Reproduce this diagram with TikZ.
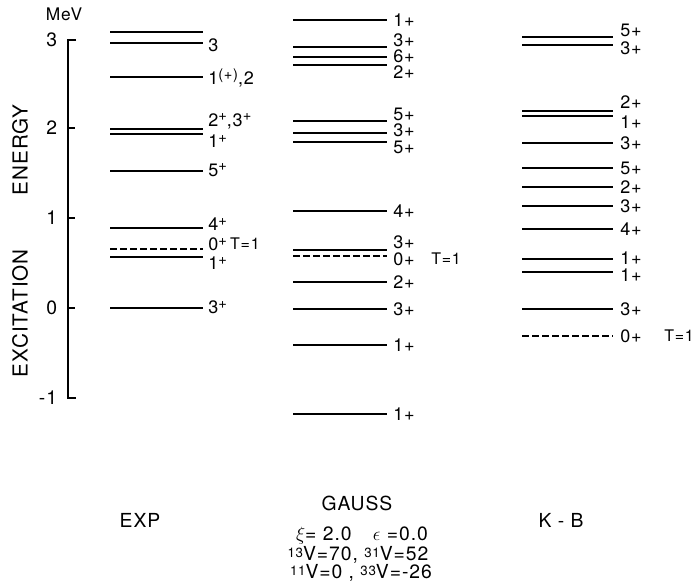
\documentclass[tikz,border=0pt]{standalone}
\usepackage{fontspec}
\setmainfont{TeX Gyre Heros}[LetterSpace=5]
\usepackage{tikz}

% raised sign after a spin value
\newcommand\upp[1]{\raisebox{0.55ex}{\fontsize{11}{12}\selectfont #1}}
% mass-number prefix in the parameter lines
\newcommand\pre[1]{\raisebox{0.35ex}{\fontsize{10}{11}\selectfont #1}}

\tikzset{
  lvl/.style={line width=1.7pt},
  tlvl/.style={line width=1.4pt, dash pattern=on 5pt off 2.5pt},
  lab/.style={anchor=west, inner sep=0pt, font=\fontsize{13.5}{15}\selectfont},
  small/.style={anchor=west, inner sep=0pt, font=\fontsize{12}{13}\selectfont},
  head/.style={inner sep=0.5pt, font=\fontsize{14.5}{16}\selectfont}
}

\begin{document}
\begin{tikzpicture}[x=0.75pt,y=0.75pt,yscale=-1,xscale=1]
\useasboundingbox (0,0) rectangle (699,582);

%Axis
\draw [line width=1.4pt] (76,40) -- (68,40) -- (68,398) -- (76,398) ;
\draw [line width=1.4pt] (68,128) -- (75,128) ;
\draw [line width=1.4pt] (68,218) -- (75,218) ;
\draw [line width=1.4pt] (68,308) -- (75,308) ;
% Text Node
\draw (64,14) node [head, font=\fontsize{13}{15}\selectfont] (mev) {MeV};
\draw (58,40) node [head, anchor=east] (t3) {3};
\draw (58,128) node [head, anchor=east] (t2) {2};
\draw (58,218) node [head, anchor=east] (t1) {1};
\draw (58,308) node [head, anchor=east] (t0) {0};
\draw (58,398) node [head, anchor=east] (tm1) {-1};
\draw (20,241) node [head, rotate=90, font=\fontsize{15.5}{17}\selectfont] (ytitle) {EXCITATION\hspace{2.6em}ENERGY};

%EXP levels
\draw [lvl] (110,32) -- (203,32) ;
\draw [lvl] (110,43) -- (203,43) ;
\draw [lvl] (110,77) -- (203,77) ;
\draw [lvl] (110,129) -- (203,129) ;
\draw [lvl] (110,134) -- (203,134) ;
\draw [lvl] (110,171) -- (203,171) ;
\draw [lvl] (110,228) -- (203,228) ;
\draw [tlvl] (110,249) -- (203,249) ;
\draw [lvl] (110,257) -- (203,257) ;
\draw [lvl] (110,308) -- (203,308) ;
% Text Node
\draw (208,45) node [lab] (e3) {3};
\draw (208,78) node [lab] (e12) {1\upp{(+)},2};
\draw (208,121) node [lab] (e23) {2\upp{+},3\upp{+}};
\draw (208,141) node [lab] (e1a) {1\upp{+}};
\draw (208,170) node [lab] (e5) {5\upp{+}};
\draw (208,224) node [lab] (e4) {4\upp{+}};
\draw (208,244) node [lab] (e0) {0\upp{+}};
\draw (e0.east) node [small, xshift=2pt] (eT) {T=1};
\draw (208,263) node [lab] (e1b) {1\upp{+}};
\draw (208,307) node [lab] (e3b) {3\upp{+}};

%GAUSS levels
\draw [lvl] (293,20) -- (387,20) ;
\draw [lvl] (293,47) -- (387,47) ;
\draw [lvl] (293,57) -- (387,57) ;
\draw [lvl] (293,65) -- (387,65) ;
\draw [lvl] (293,121) -- (387,121) ;
\draw [lvl] (293,133) -- (387,133) ;
\draw [lvl] (293,142) -- (387,142) ;
\draw [lvl] (293,211) -- (387,211) ;
\draw [lvl] (293,250) -- (387,250) ;
\draw [tlvl] (293,256) -- (387,256) ;
\draw [lvl] (293,282) -- (387,282) ;
\draw [lvl] (293,309) -- (387,309) ;
\draw [lvl] (293,345) -- (387,345) ;
\draw [lvl] (293,414) -- (387,414) ;
% Text Node
\draw (393,20) node [lab] (g1a) {1+};
\draw (393,40) node [lab] (g3a) {3+};
\draw (393,56) node [lab] (g6) {6+};
\draw (393,72) node [lab] (g2a) {2+};
\draw (393,114) node [lab] (g5a) {5+};
\draw (393,130) node [lab] (g3b) {3+};
\draw (393,147) node [lab] (g5b) {5+};
\draw (393,211) node [lab] (g4) {4+};
\draw (393,242) node [lab] (g3c) {3+};
\draw (393,259) node [lab] (g0) {0+};
\draw (431,259) node [small] (gT) {T=1};
\draw (393,282) node [lab] (g2b) {2+};
\draw (393,309) node [lab] (g3d) {3+};
\draw (393,345) node [lab] (g1b) {1+};
\draw (393,414) node [lab] (g1c) {1+};

%K-B levels
\draw [lvl] (522,37) -- (613,37) ;
\draw [lvl] (522,45) -- (613,45) ;
\draw [lvl] (522,111) -- (613,111) ;
\draw [lvl] (522,116) -- (613,116) ;
\draw [lvl] (522,143) -- (613,143) ;
\draw [lvl] (522,168) -- (613,168) ;
\draw [lvl] (522,187) -- (613,187) ;
\draw [lvl] (522,206) -- (613,206) ;
\draw [lvl] (522,229) -- (613,229) ;
\draw [lvl] (522,259) -- (613,259) ;
\draw [lvl] (522,272) -- (613,272) ;
\draw [lvl] (522,309) -- (613,309) ;
\draw [tlvl] (522,336) -- (613,336) ;
% Text Node
\draw (620,30) node [lab] (k5a) {5+};
\draw (620,48) node [lab] (k3a) {3+};
\draw (620,102) node [lab] (k2a) {2+};
\draw (620,122) node [lab] (k1a) {1+};
\draw (620,143) node [lab] (k3b) {3+};
\draw (620,168) node [lab] (k5b) {5+};
\draw (620,187) node [lab] (k2b) {2+};
\draw (620,206) node [lab] (k3c) {3+};
\draw (620,229) node [lab] (k4) {4+};
\draw (620,258) node [lab] (k1b) {1+};
\draw (620,275) node [lab] (k1c) {1+};
\draw (620,309) node [lab] (k3d) {3+};
\draw (620,336) node [lab] (k0) {0+};
\draw (664,336) node [small] (kT) {T=1};

%Column titles
\draw (357,503) node [head] (gauss) {GAUSS};
\draw (140,520) node [head] (exp) {EXP};
\draw (561,520) node [head] (kb) {K - B};
\draw (362,536) node [head, inner sep=0pt] (xi) {$\xi$= 2.0\hspace{1.1em}$\epsilon$ =0.0};
\draw (358,555) node [head, inner sep=0pt] (v1) {\pre{13}V=70, \pre{31}V=52};
\draw (361,573) node [head, inner sep=0pt] (v2) {\pre{11}V=0 , \pre{33}V=-26};

\end{tikzpicture}
\end{document}
